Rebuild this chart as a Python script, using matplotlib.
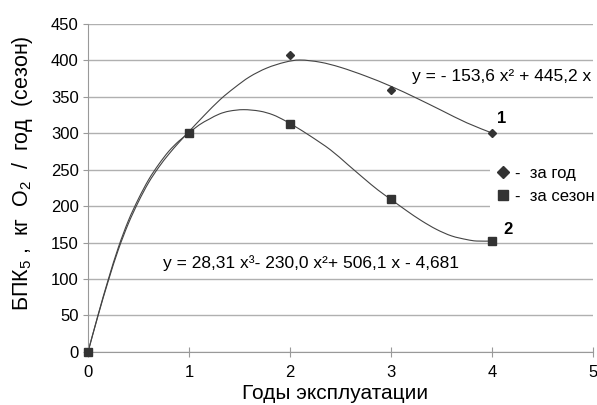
import matplotlib
matplotlib.use('Agg')
import matplotlib.pyplot as plt
from matplotlib.path import Path
from matplotlib.patches import PathPatch

plt.rcParams['font.family'] = ['Liberation Sans', 'DejaVu Sans']
plt.rcParams['mathtext.fontset'] = 'custom'
plt.rcParams['mathtext.rm'] = 'Liberation Sans'
plt.rcParams['mathtext.it'] = 'Liberation Sans'

# measured points
years = [0, 1, 2, 3, 4]
per_year = [0, 300, 407, 359, 300]
per_season = [0, 300, 312, 210, 152]

# smoothed curves
curve1_x = [0, 0.1, 0.2, 0.3, 0.4, 0.5, 0.6, 0.7, 0.8, 0.9, 1.0, 1.15, 1.31, 1.45,
            1.6, 1.77, 1.95, 2.1, 2.3, 2.5, 2.75, 3.0, 3.25, 3.5, 3.75, 4.0]
curve1_y = [0, 50, 97, 140, 176, 206, 232, 253, 271, 287, 302, 324, 346, 362,
            377, 389, 397, 400, 397, 390, 378, 364, 348, 331, 314, 300]
curve2_x = [0, 0.1, 0.2, 0.3, 0.4, 0.5, 0.6, 0.7, 0.8, 0.9, 1.0, 1.1, 1.2, 1.3,
            1.4, 1.54, 1.7, 1.83, 1.95, 2.05, 2.2, 2.4, 2.57, 2.73, 2.87, 3.0,
            3.15, 3.3, 3.45, 3.6, 3.75, 3.85, 4.0]
curve2_y = [0, 51, 99, 143, 180, 210, 236, 257, 275, 289, 300, 311, 319, 326,
            330, 332, 330, 325, 317, 309, 296, 277, 257, 238, 222, 209,
            194, 180, 168, 159, 154, 152, 152]


def smooth_path(xs, ys):
    # bezier path through the read points (catmull-rom style handles)
    pts = list(zip(xs, ys))
    verts = [pts[0]]
    codes = [Path.MOVETO]
    n = len(pts)
    for i in range(n - 1):
        p0 = pts[max(i - 1, 0)]
        p1 = pts[i]
        p2 = pts[i + 1]
        p3 = pts[min(i + 2, n - 1)]
        c1 = (p1[0] + (p2[0] - p0[0]) / 6, p1[1] + (p2[1] - p0[1]) / 6)
        c2 = (p2[0] - (p3[0] - p1[0]) / 6, p2[1] - (p3[1] - p1[1]) / 6)
        verts += [c1, c2, p2]
        codes += [Path.CURVE4] * 3
    return Path(verts, codes)


fig = plt.figure(figsize=(5.97, 4.05), dpi=100)
ax = fig.add_axes([0.1474, 0.1309, 0.8459, 0.811])

for cx, cy in [(curve1_x, curve1_y), (curve2_x, curve2_y)]:
    ax.add_patch(PathPatch(smooth_path(cx, cy), facecolor='none',
                           edgecolor='#444444', lw=0.8, zorder=2))

ax.plot(years, per_year, linestyle='none', marker='D', ms=4.5, color='#333333',
        label='-  за год', clip_on=False, zorder=3)
ax.plot(years, per_season, linestyle='none', marker='s', ms=5.2, color='#333333',
        label='-  за сезон', clip_on=False, zorder=3)

ax.set_xlim(0, 5)
ax.set_ylim(0, 450)
ax.set_xticks(range(0, 6))
ax.set_yticks(range(0, 451, 50))
ax.grid(axis='y', color='#b0b0b0', lw=1)
ax.set_axisbelow(True)
for s in ['top', 'right']:
    ax.spines[s].set_visible(False)
for s in ['left', 'bottom']:
    ax.spines[s].set_color('#999999')
ax.tick_params(axis='y', length=3.6, color='#999999', pad=3, labelsize=12)
ax.tick_params(axis='x', direction='inout', length=7, color='#999999', pad=6, labelsize=12)

ax.set_xlabel('Годы эксплуатации', fontsize=15)
ax.xaxis.set_label_coords(0.489, -0.098)
ax.set_ylabel('БПК$_5$ ,  кг  O$_2$  /  год  (сезон)', fontsize=15.5)
ax.yaxis.set_label_coords(-0.105, 0.545)

ax.text(4.98, 377, 'y = - 153,6 x² + 445,2 x', fontsize=12.5, ha='right', va='center',
        bbox=dict(facecolor='white', edgecolor='none', pad=4), zorder=4)
ax.text(0.74, 122, 'y = 28,31 x³- 230,0 x²+ 506,1 x - 4,681', fontsize=12.5,
        ha='left', va='center')
ax.text(4.10, 320, '1', fontsize=12, fontweight='bold', ha='center', va='center')
ax.text(4.16, 168, '2', fontsize=12, fontweight='bold', ha='center', va='center')

leg = ax.legend(loc='upper left', bbox_to_anchor=(490 / 597, 1 - 161 / 405),
                bbox_transform=fig.transFigure, frameon=True, fancybox=False,
                framealpha=1, edgecolor='none', facecolor='white', fontsize=12,
                markerscale=1.4, handlelength=1.0, handletextpad=0.2,
                labelspacing=0.5, borderpad=0.3, borderaxespad=0)
leg.set_zorder(5)

fig.savefig('out.png', dpi=100)
